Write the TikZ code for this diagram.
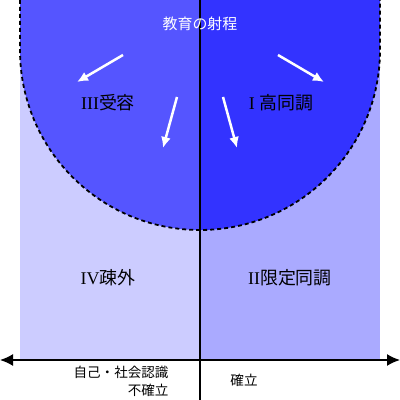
\documentclass[tikz,border=0pt]{standalone}
\usepackage{fontspec}
\setmainfont{Liberation Serif}
\newfontfamily\jpfont{Noto Sans CJK JP}
\usepackage{tikz}
\usetikzlibrary{arrows.meta}

\begin{document}
\begin{tikzpicture}[x=1bp,y=1bp,>={Latex[length=13bp,width=12bp]},line join=bevel,
  quad/.style={draw=none,font=\fontsize{18}{20}\selectfont},
  axislabel/.style={draw=none,font=\jpfont\fontsize{13.6}{18}\selectfont},
  reach/.style={white,line width=2.5bp,-{Latex[length=11bp,width=10bp]}}]
\useasboundingbox (0,0) rectangle (400,400);
%%
\fill [fill={rgb,255:red,204;green,204;blue,255}] (20,40) rectangle (200,400);
\fill [fill={rgb,255:red,170;green,170;blue,255}] (200,40) rectangle (380,400);
\fill [fill={rgb,255:red,85;green,85;blue,255}] (20,400) -- (20,350) arc [start angle=180,end angle=270,radius=180] -- (200,400) -- cycle;
\fill [fill={rgb,255:red,51;green,51;blue,255}] (200,400) -- (200,170) arc [start angle=270,end angle=360,radius=180] -- (380,400) -- cycle;
\draw [black,line width=1.8bp,dash pattern=on 4bp off 3bp] (20,400) -- (20,350) arc [start angle=180,end angle=360,radius=180] -- (380,400);
%
\coordinate (ax_top) at (200,400);
\coordinate (ax_bot) at (200,0);
\coordinate (ax_left) at (0,40);
\coordinate (ax_right) at (400,40);
\draw [black,line width=1.6bp] (ax_bot) -- (ax_top);
\draw [black,line width=1.6bp,<->] (ax_left) -- (ax_right);
%
\node (scope) at (200,376) [draw=none,text=white,font=\jpfont\fontsize{15}{18}\selectfont] {教育の射程};
\node (quad_3) at (108,297) [quad] {III{\jpfont 受容}};
\node (quad_1) at (281,297) [quad] {I {\jpfont 高同調}};
\node (quad_4) at (108,122) [quad] {IV{\jpfont 疎外}};
\node (quad_2) at (290,122) [quad] {II{\jpfont 限定同調}};
\node (neg) at (172,19) [axislabel,anchor=east,align=right] {自己・社会認識\\不確立};
\node (pos) at (244,20) [axislabel] {確立};
%
\coordinate (a1s) at (123,345); \coordinate (a1e) at (77,318);
\coordinate (a2s) at (177,303); \coordinate (a2e) at (163,252);
\coordinate (a3s) at (278,345); \coordinate (a3e) at (324,318);
\coordinate (a4s) at (223,303); \coordinate (a4e) at (237,252);
\draw [reach] (a1s) -- (a1e);
\draw [reach] (a2s) -- (a2e);
\draw [reach] (a3s) -- (a3e);
\draw [reach] (a4s) -- (a4e);
%
\end{tikzpicture}
\end{document}
